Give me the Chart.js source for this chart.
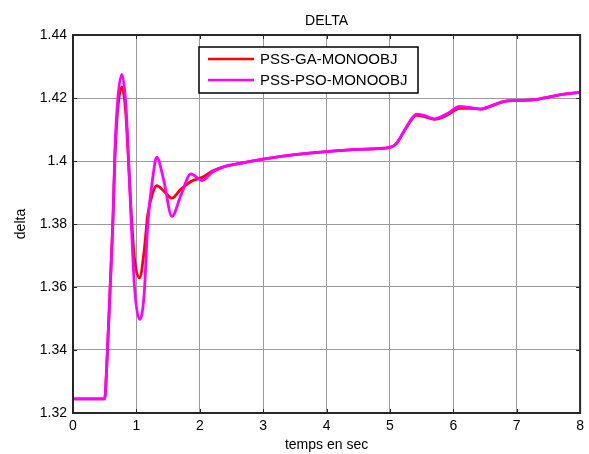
<!DOCTYPE html>
<html>
<head>
<meta charset="utf-8">
<script src="https://cdn.jsdelivr.net/npm/chart.js@4"></script>
<style>
  html, body { margin: 0; padding: 0; background: #fff; }
  #wrap { width: 589px; height: 454px; }
</style>
</head>
<body>
<div id="wrap"><canvas id="delta-chart" width="589" height="454"></canvas></div>
<script>
// values
const chartTitle = 'DELTA';
const xTitle = 'temps en sec';
const yTitle = 'delta';
const seriesNames = ['PSS-GA-MONOOBJ', 'PSS-PSO-MONOOBJ'];

const time = [0, 0.5, 0.53, 0.58, 0.63, 0.66, 0.7, 0.77, 0.83, 0.87, 0.92, 0.97, 1.05, 1.12, 1.18, 1.26, 1.32,
  1.43, 1.56, 1.7, 1.86, 2.04, 2.2, 2.4, 2.7, 3.0, 3.5, 4.0, 4.5, 5.0, 5.1, 5.25, 5.42, 5.56, 5.7, 5.9,
  6.1, 6.25, 6.44, 6.6, 6.8, 7.0, 7.25, 7.5, 7.75, 8.0];

const deltaGA = [1.3245, 1.3245, 1.3338, 1.357, 1.3813, 1.400, 1.415, 1.4235, 1.416, 1.402, 1.383, 1.369, 1.3629, 1.371, 1.383, 1.390, 1.3922,
  1.3905, 1.3882, 1.391, 1.3935, 1.3948, 1.3968, 1.3983, 1.3995, 1.4006, 1.402, 1.403, 1.4037, 1.4043, 1.4055, 1.4103, 1.4145, 1.414, 1.4132, 1.4145,
  1.4167, 1.4167, 1.4165, 1.4175, 1.4189, 1.4192, 1.4194, 1.4203, 1.4212, 1.4218];

const deltaPSO = [1.3245, 1.3245, 1.3338, 1.357, 1.3813, 1.4026, 1.418, 1.4275, 1.419, 1.4035, 1.380, 1.360, 1.3497, 1.357, 1.380, 1.395, 1.4012,
  1.394, 1.3824, 1.389, 1.3959, 1.3938, 1.3965, 1.3983, 1.3995, 1.4006, 1.402, 1.403, 1.4037, 1.4043, 1.4055, 1.4105, 1.4149, 1.4143, 1.4134, 1.415,
  1.4173, 1.417, 1.4165, 1.4175, 1.4189, 1.4192, 1.4194, 1.4203, 1.4212, 1.4218];

const xTickLabels = ['0', '1', '2', '3', '4', '5', '6', '7', '8'];
const yTickLabels = ['1.32', '1.34', '1.36', '1.38', '1.4', '1.42', '1.44'];

const FONT = '"Liberation Sans", Arial, sans-serif';

const toPoints = (vals) => time.map((t, i) => ({ x: t, y: vals[i] }));

// box, inner ticks, title and legend in matlab style
const matlabFrame = {
  id: 'matlabFrame',
  afterDraw(chart) {
    const ctx = chart.ctx;
    const a = chart.chartArea;
    const xs = chart.scales.x;
    const ys = chart.scales.y;
    ctx.save();

    ctx.strokeStyle = '#262626';
    ctx.lineWidth = 1;
    ctx.beginPath();
    xs.ticks.forEach(t => {
      const px = Math.round(xs.getPixelForValue(t.value)) + 0.5;
      ctx.moveTo(px, a.bottom); ctx.lineTo(px, a.bottom - 4);
      ctx.moveTo(px, a.top); ctx.lineTo(px, a.top + 4);
    });
    ys.ticks.forEach(t => {
      const py = Math.round(ys.getPixelForValue(t.value)) + 0.5;
      ctx.moveTo(a.left, py); ctx.lineTo(a.left + 4, py);
      ctx.moveTo(a.right, py); ctx.lineTo(a.right - 4, py);
    });
    ctx.stroke();

    ctx.lineWidth = 2;
    ctx.strokeStyle = '#262626';
    ctx.strokeRect(a.left, a.top, a.right - a.left, a.bottom - a.top);

    // title over plot area
    ctx.fillStyle = '#000';
    ctx.font = '14px ' + FONT;
    ctx.textAlign = 'center';
    ctx.textBaseline = 'middle';
    ctx.fillText(chartTitle, (a.left + a.right) / 2, 21);

    // legend box
    const bx = 199, by = 47, bw = 219, bh = 46;
    ctx.fillStyle = '#fff';
    ctx.fillRect(bx, by, bw, bh);
    ctx.lineWidth = 1.5;
    ctx.strokeStyle = '#000';
    ctx.strokeRect(bx, by, bw, bh);
    ctx.font = '15px ' + FONT;
    ctx.textAlign = 'left';
    chart.data.datasets.forEach((ds, i) => {
      const ry = by + 12 + i * 21;
      ctx.strokeStyle = ds.borderColor;
      ctx.lineWidth = 2.5;
      ctx.beginPath();
      ctx.moveTo(bx + 9, ry); ctx.lineTo(bx + 55, ry);
      ctx.stroke();
      ctx.fillStyle = '#000';
      ctx.fillText(ds.label, bx + 61, ry + 1);
    });
    ctx.restore();
  }
};

const ctx = document.getElementById('delta-chart');
const myChart = new Chart(ctx, {
  type: 'line',
  data: {
    datasets: [
      {
        label: seriesNames[0],
        data: toPoints(deltaGA),
        borderColor: '#ff0000',
        borderWidth: 2.8,
        pointRadius: 0,
        fill: false,
        order: 2,
        cubicInterpolationMode: 'monotone'
      },
      {
        label: seriesNames[1],
        data: toPoints(deltaPSO),
        borderColor: '#ff00ff',
        borderWidth: 2.8,
        pointRadius: 0,
        fill: false,
        order: 1,
        cubicInterpolationMode: 'monotone'
      }
    ]
  },
  options: {
    responsive: false,
    animation: false,
    layout: { padding: { left: 0, right: 6, top: 35, bottom: 0 } },
    plugins: {
      legend: { display: false },
      title: { display: false },
      tooltip: { enabled: false }
    },
    scales: {
      x: {
        type: 'linear',
        min: 0,
        max: 8,
        afterFit: (s) => { s.height = 41; },
        ticks: {
          stepSize: 1,
          padding: 5,
          color: '#000',
          font: { family: FONT, size: 14 },
          maxRotation: 0,
          callback: (v) => xTickLabels[Math.round(v)]
        },
        grid: { color: '#9a9a9a', lineWidth: 1, drawTicks: false },
        border: { display: false },
        title: {
          display: true,
          text: xTitle,
          color: '#000',
          font: { family: FONT, size: 14 },
          padding: { top: 0, bottom: 0 }
        }
      },
      y: {
        min: 1.32,
        max: 1.44,
        afterFit: (s) => { s.width = 73; },
        ticks: {
          stepSize: 0.02,
          padding: 6,
          color: '#000',
          font: { family: FONT, size: 14 },
          callback: (v) => yTickLabels[Math.round((v - 1.32) / 0.02)]
        },
        grid: { color: '#9a9a9a', lineWidth: 1, drawTicks: false },
        border: { display: false },
        title: {
          display: true,
          text: yTitle,
          color: '#000',
          font: { family: FONT, size: 14 },
          padding: { top: 13, bottom: 0 }
        }
      }
    }
  },
  plugins: [matlabFrame]
});
</script>
</body>
</html>
